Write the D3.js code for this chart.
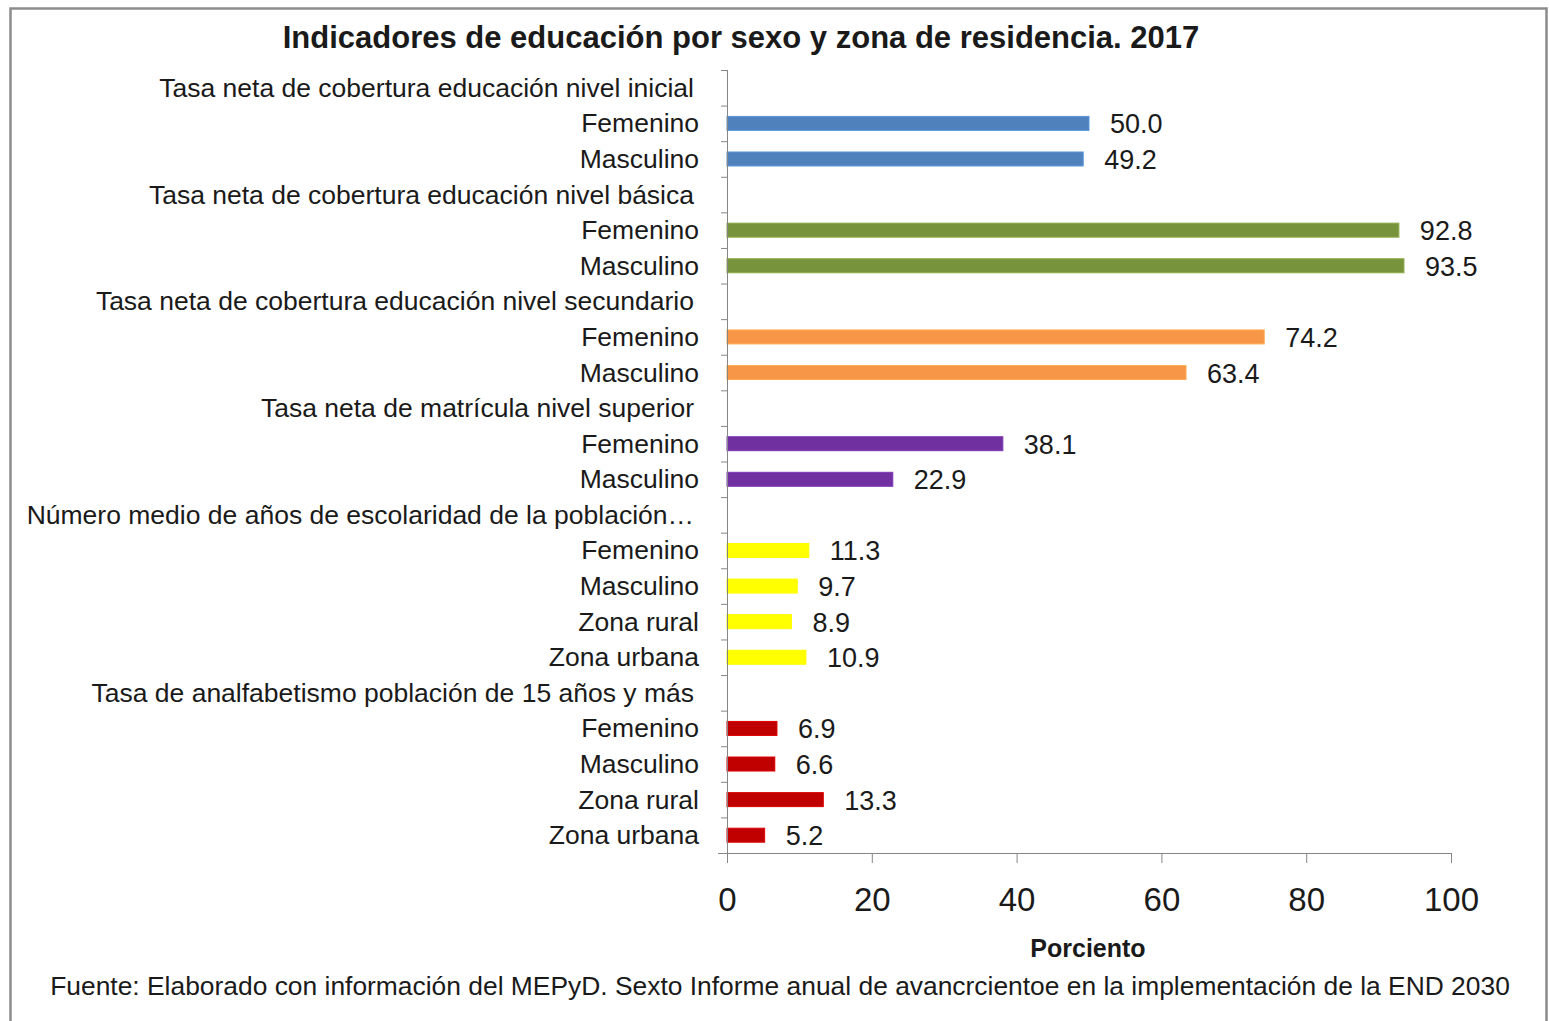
<!DOCTYPE html>
<html lang="es">
    <head>
        <title>Indicadores de educación</title>
        <meta charset="utf-8">
        <script src="https://d3js.org/d3.v7.min.js"></script>
        <style>
            * {
                margin: 0;
                padding: 0;
            }
            body {
                background-color: white;
                font-family: "Liberation Sans", Arial, sans-serif;
            }
        </style>
    </head>
    <body>
        <main></main>
        <script>

            // rows of the chart, top to bottom (headers have no value)
            const labels = [
                "Tasa neta de cobertura educación nivel inicial", "Femenino", "Masculino",
                "Tasa neta de cobertura educación nivel básica", "Femenino", "Masculino",
                "Tasa neta de cobertura educación nivel secundario", "Femenino", "Masculino",
                "Tasa neta de matrícula nivel superior", "Femenino", "Masculino",
                "Número medio de años de escolaridad de la población…", "Femenino", "Masculino", "Zona rural", "Zona urbana",
                "Tasa de analfabetismo población de 15 años y más", "Femenino", "Masculino", "Zona rural", "Zona urbana"
            ];
            const values = [
                null, 50.0, 49.2,
                null, 92.8, 93.5,
                null, 74.2, 63.4,
                null, 38.1, 22.9,
                null, 11.3, 9.7, 8.9, 10.9,
                null, 6.9, 6.6, 13.3, 5.2
            ];
            const groups = [
                0, 0, 0,
                1, 1, 1,
                2, 2, 2,
                3, 3, 3,
                4, 4, 4, 4, 4,
                5, 5, 5, 5, 5
            ];
            const groupColors = ["#4F81BD", "#77933C", "#F79646", "#7030A0", "#FFFF00", "#C00000"];
            const xTicks = [0, 20, 40, 60, 80, 100];

            const w = 1549;
            const h = 1021;
            const mLeft = 727, mRight = 1451, mTop = 70, mBottom = 853;

            const svg = d3.select("main")
                .append("svg")
                .attr("width", w)
                .attr("height", h);

            // frame
            svg.append("rect")
                .attr("x", 10.5)
                .attr("y", 8.5)
                .attr("width", 1536)
                .attr("height", 1030)
                .attr("fill", "white")
                .attr("stroke", "#8c8c8c")
                .attr("stroke-width", 2.5);

            const xScale = d3.scaleLinear()
                .domain([0, 100])
                .range([mLeft, mRight]);

            const yScale = d3.scaleBand()
                .domain(d3.range(labels.length))
                .range([mTop, mBottom]);

            const yEdges = d3.scaleLinear()
                .domain([0, labels.length])
                .range([mTop, mBottom]);

            const rows = labels.map((l, i) => ({label: l, value: values[i], group: groups[i], i: i}));
            const bars = rows.filter(d => d.value !== null);

            // bars
            svg.selectAll("rect.bar")
                .data(bars)
                .enter()
                .append("rect")
                .attr("class", "bar")
                .attr("x", xScale(0))
                .attr("y", d => yScale(d.i) + yScale.bandwidth() / 2 - 7)
                .attr("width", d => xScale(d.value) - xScale(0))
                .attr("height", 14)
                .attr("fill", d => groupColors[d.group])
                .attr("stroke", d => d3.color(groupColors[d.group]).brighter(0.4))
                .attr("stroke-width", 1);

            // value labels
            svg.selectAll("text.value")
                .data(bars)
                .enter()
                .append("text")
                .attr("class", "value")
                .attr("x", d => xScale(d.value) + 21)
                .attr("y", d => yScale(d.i) + yScale.bandwidth() / 2 + 10)
                .attr("font-size", "27px")
                .attr("fill", "#1a1a1a")
                .text(d => d.value.toFixed(1));

            // y axis: boundary ticks
            const yAxis = d3.axisLeft(yEdges)
                .tickValues(d3.range(labels.length + 1))
                .tickSize(6)
                .tickFormat("");
            const gy = svg.append("g")
                .attr("transform", `translate(${mLeft}, 0)`)
                .call(yAxis);
            gy.select(".domain").attr("stroke", "#868686").attr("d", `M0.5,${mTop}V${mBottom}`);
            gy.selectAll(".tick line").attr("stroke", "#868686");

            // y category labels
            svg.selectAll("text.cat")
                .data(rows)
                .enter()
                .append("text")
                .attr("class", "cat")
                .attr("x", d => d.value === null ? mLeft - 33 : mLeft - 28)
                .attr("y", d => yScale(d.i) + yScale.bandwidth() / 2 + 9)
                .attr("text-anchor", "end")
                .attr("font-size", "26.5px")
                .attr("fill", "#1a1a1a")
                .text(d => d.label);

            // x axis
            const xAxis = d3.axisBottom(xScale)
                .tickValues(xTicks)
                .tickSize(10)
                .tickPadding(25)
                .tickSizeOuter(0);
            const gx = svg.append("g")
                .attr("transform", `translate(0, ${mBottom})`)
                .call(xAxis);
            gx.select(".domain").attr("stroke", "#868686").attr("d", `M${mLeft - 9},0.5H${mRight}`);
            gx.selectAll(".tick line").attr("stroke", "#868686");
            gx.selectAll(".tick text")
                .attr("font-size", "33px")
                .attr("font-family", "Liberation Sans, Arial, sans-serif")
                .attr("fill", "#1a1a1a");

            // title
            svg.append("text")
                .attr("x", 741)
                .attr("y", 48)
                .attr("text-anchor", "middle")
                .attr("font-size", "31px")
                .attr("font-weight", "bold")
                .attr("fill", "#1a1a1a")
                .text("Indicadores de educación por sexo y zona de residencia. 2017");

            svg.append("text")
                .attr("x", 1088)
                .attr("y", 957)
                .attr("text-anchor", "middle")
                .attr("font-size", "25px")
                .attr("font-weight", "bold")
                .attr("fill", "#1a1a1a")
                .text("Porciento");

            svg.append("text")
                .attr("x", 780)
                .attr("y", 995)
                .attr("text-anchor", "middle")
                .attr("font-size", "26.4px")
                .attr("fill", "#1a1a1a")
                .text("Fuente: Elaborado con información del MEPyD.  Sexto Informe anual de avancrcientoe en la implementación de la END 2030");

        </script>
    </body>
</html>
